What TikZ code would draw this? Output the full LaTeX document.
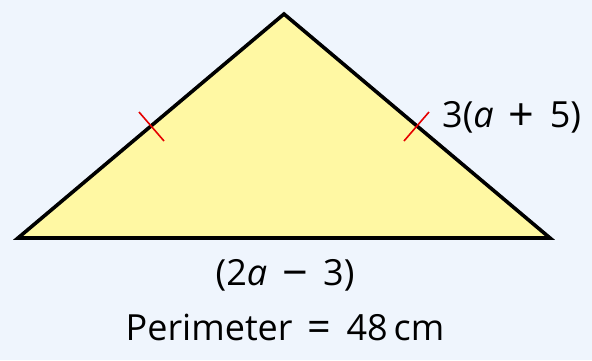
\documentclass[tikz,border=0pt]{standalone}
\usepackage{fontspec}
\usetikzlibrary{calc}
\setmainfont{Open Sans}
\newcommand{\opsp}{\hspace{0.42em}}
\newcommand{\bigop}[1]{\raisebox{-0.085em}{\scalebox{1.25}{#1}}}
\begin{document}
\begin{tikzpicture}[x=1pt,y=-1pt,
  side/.style={line width=3.6pt,line join=miter},
  tick/.style={red!90!black,line width=1.6pt},
  lbl/.style={font=\fontsize{36}{40}\selectfont,inner sep=0pt}]
\fill[fill={rgb,255:red,239;green,245;blue,253}] (0,0) rectangle (592,360);
\useasboundingbox (0,0) rectangle (592,360);
\coordinate (L) at (18,238);
\coordinate (T) at (284,14);
\coordinate (R) at (550,238);
\filldraw[side,fill={rgb,255:red,255;green,248;blue,163}] (L) -- (T) -- (R) -- cycle;
\coordinate (m1) at ($(L)!0.5!(T)$);
\coordinate (m2) at ($(R)!0.5!(T)$);
\draw[tick] ($(m1)+(-12,-14)$) -- ($(m1)+(13,15)$);
\draw[tick] ($(m2)+(-13,15)$) -- ($(m2)+(12,-14)$);
\node[lbl,anchor=base west] (s) at (442,127) {3(\textit{a}\opsp\bigop{+}\opsp5)};
\node[lbl,anchor=base] (b) at (285,285) {(2\textit{a}\opsp\bigop{−}\opsp3)};
\node[lbl,anchor=base] (p) at (285,340) {Perimeter\opsp\raisebox{-0.05em}{\scalebox{1.15}{=}}\opsp48\,cm};
\end{tikzpicture}
\end{document}
